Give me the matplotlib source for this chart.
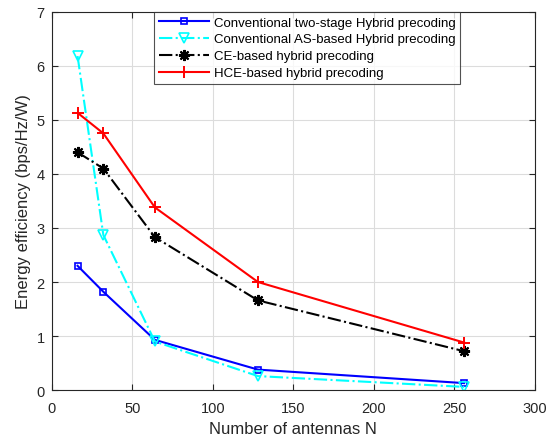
import matplotlib
matplotlib.use("Agg")
import matplotlib.pyplot as plt

plt.rcParams['font.family'] = ['Liberation Sans', 'DejaVu Sans']

N = [16, 32, 64, 128, 256]
two_stage = [2.30, 1.82, 0.93, 0.38, 0.13]
as_based = [6.18, 2.87, 0.90, 0.26, 0.06]
ce_based = [4.40, 4.10, 2.83, 1.66, 0.72]
hce_based = [5.13, 4.75, 3.38, 2.00, 0.88]
labels = ['Conventional two-stage Hybrid precoding',
          'Conventional AS-based Hybrid precoding',
          'CE-based hybrid precoding',
          'HCE-based hybrid precoding']

fig = plt.figure(figsize=(5.51, 4.39), dpi=100)
ax = fig.add_axes([0.094, 0.109, 0.877, 0.862])

ax.plot(N, two_stage, '-', color='#0000ff', lw=1.5, marker='s', ms=5,
        mfc='none', mew=1.2, label=labels[0])
ax.plot(N, as_based, '-.', color='#00ffff', lw=1.5, marker='v', ms=7,
        mfc='none', mew=1.2, label=labels[1])
ax.plot(N, ce_based, '-.', color='black', lw=1.5, marker=(8, 2, 0), ms=8,
        mew=1.5, label=labels[2])
ax.plot(N, hce_based, '-', color='#ff0000', lw=1.5, marker='+', ms=9,
        mew=1.4, label=labels[3])

ax.set_xlim(0, 300)
ax.set_ylim(0, 7)
ax.set_xticks(range(0, 301, 50))
ax.set_yticks(range(0, 8))
ax.grid(True, color='#dcdcdc', lw=0.8)
ax.set_axisbelow(True)
ax.tick_params(direction='in', length=4, labelsize=10.5, colors='#262626',
               top=True, right=True, labeltop=False, labelright=False)
ax.tick_params(axis='x', pad=8)
ax.tick_params(axis='y', pad=5)
for s in ax.spines.values():
    s.set_color('#262626')
    s.set_linewidth(0.8)
ax.set_xlabel('Number of antennas N', fontsize=12, color='#262626', labelpad=4)
ax.set_ylabel('Energy efficiency (bps/Hz/W)', fontsize=12, color='#262626', labelpad=4)

leg = ax.legend(loc='upper right', bbox_to_anchor=(0.845, 1.0), fontsize=9.5,
                frameon=True, fancybox=False, edgecolor='#262626',
                handlelength=3.8, borderpad=0.35, labelspacing=0.35,
                handletextpad=0.35, borderaxespad=0.0)
leg.get_frame().set_linewidth(0.8)

fig.savefig('out.png', dpi=100)
